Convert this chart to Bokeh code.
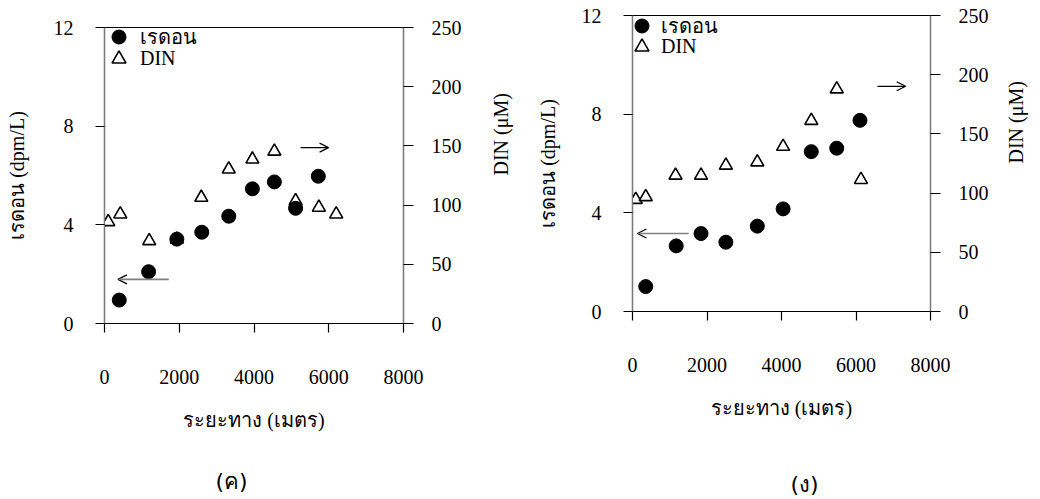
import math
from bokeh.plotting import figure
from bokeh.models import (Range1d, LinearAxis, Legend, LegendItem, Arrow, OpenHead,
                          FixedTicker, Spacer)
from bokeh.layouts import row, column
from bokeh.embed import file_html
from bokeh.resources import INLINE

# ---------------- data ----------------
# panel (ค)
dist_c_radon = [395, 1180, 1936, 2603, 3325, 3957, 4545, 5113, 5720]
radon_c = [0.95, 2.1, 3.42, 3.70, 4.35, 5.46, 5.74, 4.67, 5.97]
dist_c_din = [101, 422, 1196, 1936, 2590, 3325, 3957, 4545, 5113, 5736, 6200]
din_c = [85.8, 92.3, 69.8, 71.0, 106.4, 130.3, 138.7, 145.4, 103.5, 98.0, 92.3]

# panel (ง)
dist_g_radon = [355, 1173, 1840, 2507, 3350, 4043, 4800, 5483, 6107]
radon_g = [1.01, 2.66, 3.16, 2.81, 3.46, 4.16, 6.48, 6.62, 7.75]
dist_g_din = [88, 355, 1155, 1840, 2507, 3350, 4043, 4800, 5483, 6133]
din_g = [94.5, 96.8, 115, 115, 123.4, 126.2, 139.3, 161.2, 187.8, 111.3]

x_ticks = [0, 2000, 4000, 6000, 8000]
y_ticks = [0, 4, 8, 12]
din_ticks = [0, 50, 100, 150, 200, 250]

SERIF = "Liberation Serif"
FS = "20px"


def make_panel(width, height, borders, radon_x, radon_y, din_x, din_y,
               ylab_standoff, din_standoff, leg_x, leg_y_radon, leg_y_din,
               lab_standoff, arrow_r, arrow_l, caption, cap_x, cap_standoff):
    bl, br, bt, bb = borders
    p = figure(width=width, height=height, x_range=Range1d(0, 8000),
               y_range=Range1d(0, 12), output_backend="svg",
               toolbar_location=None, min_border_left=bl, min_border_right=br,
               min_border_top=bt, min_border_bottom=bb, x_axis_location=None,
               y_axis_location=None)
    p.extra_y_ranges = {"din": Range1d(0, 250)}
    p.xgrid.visible = False
    p.ygrid.visible = False
    p.outline_line_color = "black"
    p.outline_line_width = 1.2
    p.background_fill_color = "white"
    p.border_fill_color = "white"

    xa = LinearAxis(ticker=FixedTicker(ticks=x_ticks), axis_label="ระยะทาง (เมตร)")
    ya = LinearAxis(ticker=FixedTicker(ticks=y_ticks), axis_label="เรดอน (dpm/L)")
    ra = LinearAxis(y_range_name="din", ticker=FixedTicker(ticks=din_ticks),
                    axis_label="DIN (μM)")
    for ax in (xa, ya, ra):
        ax.major_tick_in = 0
        ax.minor_tick_line_color = None
        ax.major_label_text_font = SERIF
        ax.major_label_text_font_size = FS
        ax.major_label_text_color = "black"
        ax.axis_label_text_font = SERIF
        ax.axis_label_text_font_size = FS
        ax.axis_label_text_font_style = "normal"
        ax.axis_label_text_color = "black"
        ax.major_tick_line_color = "black"
        ax.major_tick_line_width = 1.2
        ax.axis_line_width = 1.2
    xa.major_tick_out = 9
    xa.major_label_standoff = 37
    xa.axis_label_standoff = 22
    xa.axis_line_color = "black"
    ya.major_tick_out = 9
    ya.major_label_standoff = 22
    ya.axis_label_standoff = ylab_standoff
    ya.axis_line_color = "#7a7a7a"
    ra.major_tick_out = 10
    ra.major_label_standoff = 18
    ra.axis_label_standoff = din_standoff
    ra.axis_line_color = "#7a7a7a"
    if "axis_label_orientation" in ra.properties():
        ra.axis_label_orientation = math.pi / 2
    p.add_layout(xa, "below")
    p.add_layout(ya, "left")
    p.add_layout(ra, "right")

    # panel caption: a bare axis with a single labelled tick under the panel
    ca = LinearAxis(ticker=FixedTicker(ticks=[cap_x]),
                    major_label_overrides={cap_x: caption})
    ca.axis_line_color = None
    ca.major_tick_line_color = None
    ca.minor_tick_line_color = None
    ca.major_tick_out = 0
    ca.major_tick_in = 0
    ca.major_label_standoff = cap_standoff
    ca.major_label_text_font = "DejaVu Sans"
    ca.major_label_text_font_size = "22px"
    ca.major_label_text_color = "black"
    p.add_layout(ca, "below")

    tri = p.scatter(din_x, din_y, y_range_name="din", marker="triangle", size=13,
                    fill_color="white", line_color="black", line_width=1.6)
    cir = p.scatter(radon_x, radon_y, marker="circle", size=14,
                    fill_color="black", line_color="black")

    for label, rend, ly in (("เรดอน", cir, leg_y_radon), ("DIN", tri, leg_y_din)):
        leg = Legend(items=[LegendItem(label=label, renderers=[rend])],
                     location=(leg_x, ly), border_line_color=None,
                     background_fill_alpha=0, padding=0, margin=0, spacing=0,
                     glyph_width=35, glyph_height=35, label_height=20,
                     label_standoff=lab_standoff, label_text_font=SERIF,
                     label_text_font_size=FS, label_text_color="black")
        p.add_layout(leg, "center")

    (rx0, rx1, ry) = arrow_r
    (lx0, lx1, ly) = arrow_l
    p.add_layout(Arrow(end=OpenHead(size=9, line_width=1.2, line_color="black"),
                       x_start=rx0, y_start=ry, x_end=rx1, y_end=ry,
                       line_color="black", line_width=1.2))
    p.add_layout(Arrow(end=OpenHead(size=9, line_width=1.2, line_color="black"),
                       x_start=lx0, y_start=ly, x_end=lx1, y_end=ly,
                       line_color="#808080", line_width=1.6))
    return p


p1 = make_panel(528, 487, (104, 125, 15, 176),
                dist_c_radon, radon_c, dist_c_din, din_c,
                ylab_standoff=23, din_standoff=36,
                leg_x=-3, leg_y_radon=269, leg_y_din=247, lab_standoff=4,
                arrow_r=(5247, 5995, 7.13), arrow_l=(1722, 360, 1.79),
                caption="(ค)", cap_x=3399, cap_standoff=35)
p2 = make_panel(512, 499, (104, 108, 15, 187),
                dist_g_radon, radon_g, dist_g_din, din_g,
                ylab_standoff=20, din_standoff=24,
                leg_x=-8, leg_y_radon=268, leg_y_din=247, lab_standoff=2,
                arrow_r=(6576, 7333, 9.13), arrow_l=(1509, 133, 3.16),
                caption="(ง)", cap_x=4620, cap_standoff=50)

layout = row(column(Spacer(width=528, height=12), p1, spacing=0), p2, spacing=0)
open("out.html", "w").write(file_html(layout, INLINE))
